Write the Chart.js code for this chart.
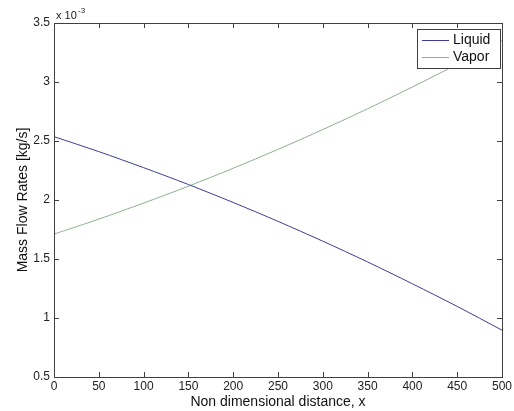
<!DOCTYPE html>
<html>
<head>
<meta charset="utf-8">
<script src="https://cdn.jsdelivr.net/npm/chart.js@4.4.1/dist/chart.umd.min.js"></script>
<style>
  html, body { margin: 0; padding: 0; background: #fff; }
  #wrap { width: 514px; height: 411px; }
</style>
</head>
<body>
<div id="wrap"><canvas id="chart-canvas" width="514" height="411"></canvas></div>
<script>
// distance along the pipe (non dimensional)
const distance = [0, 50, 100, 150, 200, 250, 300, 350, 400, 450, 500];
// mass flow rates, in units of 1e-3 kg/s
const liquidFlow = [2.537, 2.41, 2.274, 2.131, 1.979, 1.819, 1.651, 1.475, 1.29, 1.098, 0.897];
const vaporFlow = [1.711, 1.838, 1.974, 2.117, 2.269, 2.429, 2.597, 2.773, 2.958, 3.15, 3.351];
const xTicks = [0, 50, 100, 150, 200, 250, 300, 350, 400, 450, 500];
const yTicks = [0.5, 1, 1.5, 2, 2.5, 3, 3.5];

const FONT = "'Liberation Sans', Arial, sans-serif";
const AXIS_COLOR = "#404040";

function toPoints(xs, ys) {
  return xs.map((x, i) => ({ x, y: ys[i] }));
}

// box, inward ticks, legend, exponent label (matlab look)
const matlabAxes = {
  id: "matlabAxes",
  afterDraw(chart) {
    const { ctx, chartArea: a, scales } = chart;
    ctx.save();
    ctx.strokeStyle = AXIS_COLOR;
    ctx.lineWidth = 1;
    ctx.strokeRect(Math.round(a.left) + 0.5, Math.round(a.top) + 0.5,
      Math.round(a.right - a.left), Math.round(a.bottom - a.top));

    const tl = 5;
    ctx.beginPath();
    xTicks.forEach((v) => {
      const px = Math.round(scales.x.getPixelForValue(v)) + 0.5;
      ctx.moveTo(px, a.bottom); ctx.lineTo(px, a.bottom - tl);
      ctx.moveTo(px, a.top); ctx.lineTo(px, a.top + tl);
    });
    yTicks.forEach((v) => {
      const py = Math.round(scales.y.getPixelForValue(v)) + 0.5;
      ctx.moveTo(a.left, py); ctx.lineTo(a.left + tl, py);
      ctx.moveTo(a.right, py); ctx.lineTo(a.right - tl, py);
    });
    ctx.stroke();

    // exponent label
    ctx.fillStyle = "#222";
    ctx.textBaseline = "alphabetic";
    ctx.textAlign = "left";
    ctx.font = "11px " + FONT;
    ctx.fillText("x 10", a.left + 2, a.top - 4);
    ctx.font = "8px " + FONT;
    ctx.fillText("-3", a.left + 24, a.top - 10);

    // legend box
    const lx = 417, ly = 29, lw = 83, lh = 39;
    ctx.fillStyle = "#fff";
    ctx.fillRect(lx, ly, lw, lh);
    ctx.strokeStyle = AXIS_COLOR;
    ctx.strokeRect(lx + 0.5, ly + 0.5, lw, lh);
    ctx.font = "14px " + FONT;
    ctx.textBaseline = "middle";
    chart.data.datasets.forEach((ds, i) => {
      const y = ly + 11 + i * 17;
      ctx.strokeStyle = ds.borderColor;
      ctx.beginPath();
      ctx.moveTo(lx + 5, y + 0.5);
      ctx.lineTo(lx + 32, y + 0.5);
      ctx.stroke();
      ctx.fillStyle = "#111";
      ctx.fillText(ds.label, lx + 36, y);
    });
    ctx.restore();
  },
};

function renderChart() {
  const ctx = document.getElementById("chart-canvas").getContext("2d");
  const config = {
    type: "line",
    data: {
      datasets: [
        {
          label: "Liquid",
          data: toPoints(distance, liquidFlow),
          borderColor: "#3c3c96",
          borderWidth: 1,
          pointRadius: 0,
          tension: 0.3,
        },
        {
          label: "Vapor",
          data: toPoints(distance, vaporFlow),
          borderColor: "#8fb08f",
          borderWidth: 1,
          pointRadius: 0,
          tension: 0.3,
        },
      ],
    },
    options: {
      responsive: false,
      animation: false,
      layout: { padding: { top: 23, right: 12, left: 0, bottom: 0 } },
      plugins: { legend: { display: false }, tooltip: { enabled: false } },
      scales: {
        x: {
          type: "linear",
          min: 0,
          max: 500,
          afterBuildTicks: (s) => { s.ticks = xTicks.map((v) => ({ value: v })); },
          afterFit: (s) => { s.height = 34; },
          grid: { display: false, drawTicks: false },
          border: { display: false },
          ticks: { color: "#222", font: { family: FONT, size: 12 }, padding: 2, maxRotation: 0 },
          title: {
            display: true,
            text: "Non dimensional distance, x",
            color: "#111",
            font: { family: FONT, size: 14 },
            padding: { top: 0, bottom: 0 },
          },
        },
        y: {
          min: 0.5,
          max: 3.5,
          afterBuildTicks: (s) => { s.ticks = yTicks.map((v) => ({ value: v })); },
          afterFit: (s) => { s.width = 54; },
          grid: { display: false, drawTicks: false },
          border: { display: false },
          ticks: {
            color: "#222",
            font: { family: FONT, size: 12 },
            padding: 4,
            callback: (v) => String(v),
          },
          title: {
            display: true,
            text: "Mass Flow Rates [kg/s]",
            color: "#111",
            font: { family: FONT, size: 14 },
            padding: { top: 15, bottom: 0 },
          },
        },
      },
    },
    plugins: [matlabAxes],
  };
  new Chart(ctx, config);
}

renderChart();
</script>
</body>
</html>
